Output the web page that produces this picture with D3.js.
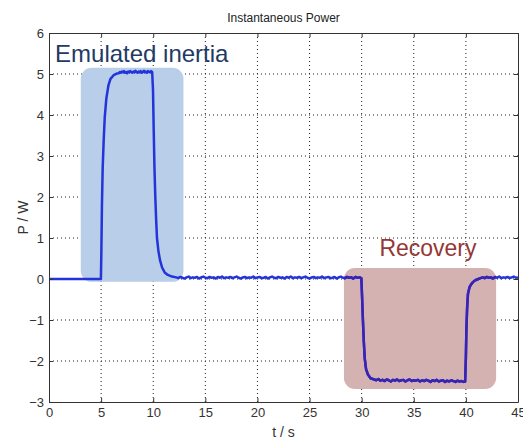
<!DOCTYPE html>
<html>
<head>
<meta charset="utf-8">
<script src="https://cdn.jsdelivr.net/npm/d3@7"></script>
<style>
    body { margin: 0; background: #fff; }
    text { font-family: "Liberation Sans", Arial, sans-serif; }
    .tick text { font-size: 13px; fill: #333; }
    .grid line { stroke: #222; stroke-width: 1; stroke-dasharray: 1,3; }
</style>
</head>
<body>
<div id="chart"></div>
<script>
// axis ticks
const xTicks = [0, 5, 10, 15, 20, 25, 30, 35, 40, 45];
const yTicks = [-3, -2, -1, 0, 1, 2, 3, 4, 5, 6];

const idleBefore = [[0, 0], [4.98, 0]];
const inertiaPulse = [
    [5.02, 0.6], [5.08, 1.8], [5.15, 2.7], [5.25, 3.4], [5.35, 3.95], [5.5, 4.4],
    [5.7, 4.72], [5.9, 4.88], [6.2, 4.97], [6.5, 5.01], [6.7, 5.02], [6.8, 5.05],
    [6.9, 5.03], [7.0, 5.06], [7.1, 5.04], [7.2, 5.07], [7.3, 5.03], [7.4, 5.05],
    [7.5, 5.02], [7.6, 5.06], [7.7, 5.04], [7.8, 5.07], [7.9, 5.05], [8.0, 5.03],
    [8.1, 5.06], [8.2, 5.04], [8.3, 5.08], [8.4, 5.05], [8.5, 5.03], [8.6, 5.06],
    [8.7, 5.04], [8.8, 5.07], [8.9, 5.03], [9.0, 5.05], [9.1, 5.08], [9.2, 5.04],
    [9.3, 5.06], [9.4, 5.03], [9.5, 5.07], [9.6, 5.05], [9.7, 5.04], [9.8, 5.07],
    [9.9, 5.05], [9.98, 4.6], [10.05, 3.6], [10.12, 2.7], [10.2, 2.0], [10.28, 1.45],
    [10.36, 1.0], [10.5, 0.68], [10.65, 0.46], [10.85, 0.28], [11.1, 0.16],
    [11.4, 0.1], [11.8, 0.06]
];
const idleMid = [
    [12.2, 0.04], [12.4, 0.02], [12.6, 0.05], [12.8, 0.03], [13.0, 0.01], [13.2, 0.04],
    [13.4, 0.06], [13.6, 0.02], [13.8, 0.04], [14.0, 0.03], [14.2, 0.05], [14.4, 0.01],
    [14.6, 0.04], [14.8, 0.06], [15.0, 0.03], [15.2, 0.02], [15.4, 0.05], [15.6, 0.03],
    [15.8, 0.04], [16.0, 0.01], [16.2, 0.05], [16.4, 0.03], [16.6, 0.06], [16.8, 0.02],
    [17.0, 0.04], [17.2, 0.03], [17.4, 0.05], [17.6, 0.02], [17.8, 0.04], [18.0, 0.06],
    [18.2, 0.03], [18.4, 0.01], [18.6, 0.04], [18.8, 0.05], [19.0, 0.02], [19.2, 0.04],
    [19.4, 0.03], [19.6, 0.06], [19.8, 0.02], [20.0, 0.04], [20.2, 0.05], [20.4, 0.02],
    [20.6, 0.03], [20.8, 0.05], [21.0, 0.01], [21.2, 0.04], [21.4, 0.06], [21.6, 0.03],
    [21.8, 0.02], [22.0, 0.05], [22.2, 0.03], [22.4, 0.04], [22.6, 0.01], [22.8, 0.05],
    [23.0, 0.03], [23.2, 0.06], [23.4, 0.02], [23.6, 0.04], [23.8, 0.03], [24.0, 0.05],
    [24.2, 0.02], [24.4, 0.04], [24.6, 0.06], [24.8, 0.03], [25.0, 0.01], [25.2, 0.04],
    [25.4, 0.05], [25.6, 0.02], [25.8, 0.04], [26.0, 0.03], [26.2, 0.06], [26.4, 0.02],
    [26.6, 0.04], [26.8, 0.05], [27.0, 0.02], [27.2, 0.03], [27.4, 0.05], [27.6, 0.01],
    [27.8, 0.04], [28.0, 0.06], [28.2, 0.03], [28.4, 0.02], [28.6, 0.05], [28.8, 0.03],
    [29.0, 0.04], [29.2, 0.01], [29.4, 0.05], [29.6, 0.03], [29.8, 0.04], [29.97, 0.02]
];
const recoveryDip = [
    [30.05, -0.5], [30.12, -1.0], [30.2, -1.5], [30.3, -1.95], [30.42, -2.2],
    [30.6, -2.33], [30.85, -2.42], [31.2, -2.45], [31.4, -2.47], [31.6, -2.44],
    [31.8, -2.48], [32.0, -2.46], [32.2, -2.49], [32.4, -2.45], [32.6, -2.47],
    [32.8, -2.5], [33.0, -2.46], [33.2, -2.48], [33.4, -2.45], [33.6, -2.49],
    [33.8, -2.47], [34.0, -2.46], [34.2, -2.5], [34.4, -2.47], [34.6, -2.45],
    [34.8, -2.49], [35.0, -2.47], [35.2, -2.48], [35.4, -2.46], [35.6, -2.5],
    [35.8, -2.47], [36.0, -2.49], [36.2, -2.46], [36.4, -2.48], [36.6, -2.51],
    [36.8, -2.47], [37.0, -2.49], [37.2, -2.46], [37.4, -2.5], [37.6, -2.48],
    [37.8, -2.47], [38.0, -2.51], [38.2, -2.48], [38.4, -2.5], [38.6, -2.47],
    [38.8, -2.49], [39.0, -2.51], [39.2, -2.48], [39.4, -2.5], [39.6, -2.49],
    [39.8, -2.51], [39.93, -2.5], [40.0, -1.9], [40.05, -1.2], [40.12, -0.7],
    [40.2, -0.36], [40.35, -0.2], [40.5, -0.13], [40.7, -0.07], [40.9, -0.03]
];
const idleAfter = [
    [41.2, 0.0], [41.4, 0.02], [41.6, 0.04], [41.8, 0.02], [42.0, 0.05], [42.2, 0.03],
    [42.4, 0.04], [42.6, 0.01], [42.8, 0.05], [43.0, 0.03], [43.2, 0.06], [43.4, 0.02],
    [43.6, 0.04], [43.8, 0.03], [44.0, 0.05], [44.2, 0.02], [44.4, 0.04], [44.6, 0.06],
    [44.8, 0.03], [45.0, 0.04]
];

// highlighted regions and their captions (data units)
const highlights = [
    {name: 'inertia',  t0: 3.05, t1: 12.9, p0: -0.07, p1: 5.15, fill: '#b8cee9'},
    {name: 'recovery', t0: 28.3, t1: 42.9, p0: -2.68, p1: 0.27, fill: '#d3b2b1'}
];
const captions = [
    {text: 'Emulated inertia', t: 0.58, p: 5.29, color: '#1f3a63', size: 24},
    {text: 'Recovery', t: 31.7, p: 0.56, color: '#953735', size: 23}
];

const trace = [].concat(idleBefore, inertiaPulse, idleMid, recoveryDip, idleAfter);

const width = 523, height = 441;
const margin = {top: 33, right: 5, bottom: 39, left: 49};
const w = width - margin.left - margin.right;
const h = height - margin.top - margin.bottom;

const svg = d3.select('#chart').append('svg')
    .attr('width', width)
    .attr('height', height);

const plot = svg.append('g')
    .attr('transform', `translate(${margin.left},${margin.top})`);

const xScale = d3.scaleLinear().domain([0, 45]).range([0, w]);
const yScale = d3.scaleLinear().domain([-3, 6]).range([h, 0]);

// dotted grid
plot.append('g').attr('class', 'grid')
    .selectAll('line')
    .data(xTicks.slice(1, -1))
    .join('line')
    .attr('x1', d => xScale(d)).attr('x2', d => xScale(d))
    .attr('y1', 0).attr('y2', h);

plot.append('g').attr('class', 'grid')
    .selectAll('line')
    .data(yTicks.slice(1, -1))
    .join('line')
    .attr('x1', 0).attr('x2', w)
    .attr('y1', d => yScale(d)).attr('y2', d => yScale(d));

// shaded boxes
plot.selectAll('rect.hl')
    .data(highlights)
    .join('rect')
    .attr('class', 'hl')
    .attr('x', d => xScale(d.t0))
    .attr('y', d => yScale(d.p1))
    .attr('width', d => xScale(d.t1) - xScale(d.t0))
    .attr('height', d => yScale(d.p0) - yScale(d.p1))
    .attr('rx', 11)
    .attr('fill', d => d.fill);

// clip for the tinted part of the trace
const rec = highlights[1];
svg.append('defs').append('clipPath').attr('id', 'recClip')
    .append('rect')
    .attr('x', xScale(rec.t0))
    .attr('y', yScale(rec.p1))
    .attr('width', xScale(rec.t1) - xScale(rec.t0))
    .attr('height', yScale(rec.p0) - yScale(rec.p1))
    .attr('rx', 11);

const line = d3.line()
    .x(d => xScale(d[0]))
    .y(d => yScale(d[1]));

plot.append('path')
    .datum(trace)
    .attr('fill', 'none')
    .attr('stroke', '#2234da')
    .attr('stroke-width', 2.5)
    .attr('stroke-linejoin', 'round')
    .attr('d', line);

plot.append('path')
    .datum(trace)
    .attr('fill', 'none')
    .attr('stroke', '#3a22b2')
    .attr('stroke-width', 2.5)
    .attr('stroke-linejoin', 'round')
    .attr('clip-path', 'url(#recClip)')
    .attr('d', line);

// axes, ticks point inward like matlab
const fmt = d3.format('d');
plot.append('g')
    .attr('transform', `translate(0,${h})`)
    .call(d3.axisBottom(xScale).tickValues(xTicks).tickFormat(fmt).tickSize(-4).tickSizeOuter(0).tickPadding(6));
plot.append('g')
    .call(d3.axisLeft(yScale).tickValues(yTicks).tickFormat(fmt).tickSize(-4).tickSizeOuter(0).tickPadding(5));
plot.append('g')
    .call(d3.axisTop(xScale).tickValues(xTicks).tickFormat('').tickSize(-4).tickSizeOuter(0));
plot.append('g')
    .attr('transform', `translate(${w},0)`)
    .call(d3.axisRight(yScale).tickValues(yTicks).tickFormat('').tickSize(-4).tickSizeOuter(0));

plot.selectAll('.domain, .tick line').attr('stroke', '#333');
plot.selectAll('.tick text').attr('font-family', null).attr('font-size', null);

// captions
plot.selectAll('text.caption')
    .data(captions)
    .join('text')
    .attr('class', 'caption')
    .attr('x', d => xScale(d.t))
    .attr('y', d => yScale(d.p))
    .attr('fill', d => d.color)
    .attr('font-size', d => d.size)
    .text(d => d.text);

// title and axis labels
svg.append('text')
    .attr('x', margin.left + w / 2)
    .attr('y', 22)
    .attr('text-anchor', 'middle')
    .attr('font-size', 12)
    .attr('fill', '#222')
    .text('Instantaneous Power');

svg.append('text')
    .attr('x', margin.left + w / 2)
    .attr('y', 437)
    .attr('text-anchor', 'middle')
    .attr('font-size', 14)
    .attr('fill', '#333')
    .text('t / s');

svg.append('text')
    .attr('transform', `translate(28,${margin.top + h / 2}) rotate(-90)`)
    .attr('text-anchor', 'middle')
    .attr('font-size', 14)
    .attr('fill', '#333')
    .text('P / W');
</script>
</body>
</html>
